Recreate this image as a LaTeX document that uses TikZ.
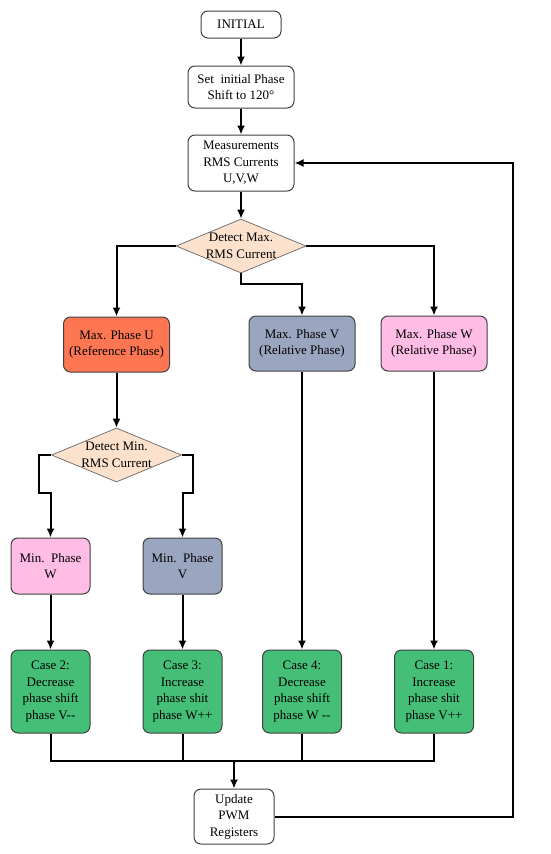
\documentclass[tikz,border=0pt]{standalone}
\usepackage{fontspec}
\setmainfont{Liberation Serif}
\usetikzlibrary{arrows.meta,shapes.geometric}
\definecolor{refcol}{HTML}{FF7752}
\definecolor{relv}{HTML}{9AA6BF}
\definecolor{relw}{HTML}{FFBDE6}
\definecolor{casecol}{HTML}{45BF78}
\definecolor{decicol}{HTML}{FCE1CC}
\tikzset{
  box/.style={draw=black!75, line width=1pt, rounded corners=7pt, align=center,
    font=\fontsize{13}{16.5}\selectfont, inner sep=2pt},
  decision/.style={diamond, draw=black!60, line width=0.7pt, fill=decicol, align=center,
    aspect=2.4, inner sep=-3pt, minimum width=130, minimum height=54,
    font=\fontsize{13}{16.5}\selectfont},
  flow/.style={line width=2pt, -{Latex[length=9pt,width=8pt]}},
  joint/.style={line width=2pt}
}
\begin{document}
\begin{tikzpicture}[x=1pt,y=-1pt]
  \useasboundingbox (0,0) rectangle (550,854);
  \node[box, minimum width=80, minimum height=27] (init) at (241,24.5) {INITIAL};
  \node[box, minimum width=106, minimum height=42] (setph) at (241,87) {Set\ \ initial Phase\\Shift to 120°};
  \node[box, minimum width=106, minimum height=56] (meas) at (241,163) {Measurements\\RMS Currents\\U,V,W};
  \node[decision] (dmax) at (241,246) {Detect Max.\\RMS Current};
  \node[box, fill=refcol, minimum width=106, minimum height=55] (maxu) at (116.5,344.5) {Max. Phase U\\(Reference Phase)};
  \node[box, fill=relv, minimum width=106, minimum height=55] (maxv) at (302,343.5) {Max. Phase V\\(Relative Phase)};
  \node[box, fill=relw, minimum width=106, minimum height=55] (maxw) at (434,343.5) {Max. Phase W\\(Relative Phase)};
  \node[decision] (dmin) at (116.5,455) {Detect Min.\\RMS Current};
  \node[box, fill=relw, minimum width=79, minimum height=56] (minw) at (50.5,566) {Min.\ \ Phase\\W};
  \node[box, fill=relv, minimum width=79, minimum height=56] (minv) at (182.5,566) {Min.\ \ Phase\\V};
  \node[box, fill=casecol, minimum width=79, minimum height=83] (case2) at (50.5,691.5) {Case 2:\\Decrease\\phase shift\\phase V-{}-};
  \node[box, fill=casecol, minimum width=79, minimum height=83] (case3) at (182.5,691.5) {Case 3:\\Increase\\phase shit\\phase W++};
  \node[box, fill=casecol, minimum width=79, minimum height=83] (case4) at (302,691.5) {Case 4:\\Decrease\\phase shift\\phase W -{}-};
  \node[box, fill=casecol, minimum width=79, minimum height=83] (case1) at (434,691.5) {Case 1:\\Increase\\phase shit\\phase V++};
  \node[box, minimum width=80, minimum height=55] (upd) at (234,816.5) {Update\\PWM\\Registers};
  \coordinate (merge) at (234,761);
  % main column
  \draw[flow] (init) -- (setph);
  \draw[flow] (setph) -- (meas);
  \draw[flow] (meas) -- (dmax);
  % max branches
  \draw[flow] (dmax.west) -| (maxu);
  \draw[flow] (dmax.east) -| (maxw);
  \draw[flow] (dmax.south) -- ++(0,11) -| (maxv);
  \draw[flow] (maxu) -- (dmin);
  % min branches
  \draw[flow] (dmin.west) -- ++(-12,0) -- ++(0,38) -| (minw);
  \draw[flow] (dmin.east) -- ++(11,0) -- ++(0,38) -| (minv);
  \draw[flow] (minw) -- (case2);
  \draw[flow] (minv) -- (case3);
  \draw[flow] (maxv) -- (case4);
  \draw[flow] (maxw) -- (case1);
  % merge and loop back
  \foreach \c in {case2,case3,case4,case1} \draw[joint] (\c.south) |- (merge);
  \draw[flow] (merge) -- (upd);
  \draw[flow] (upd.east) -- ++(238,0) |- (meas.east);
\end{tikzpicture}
\end{document}
